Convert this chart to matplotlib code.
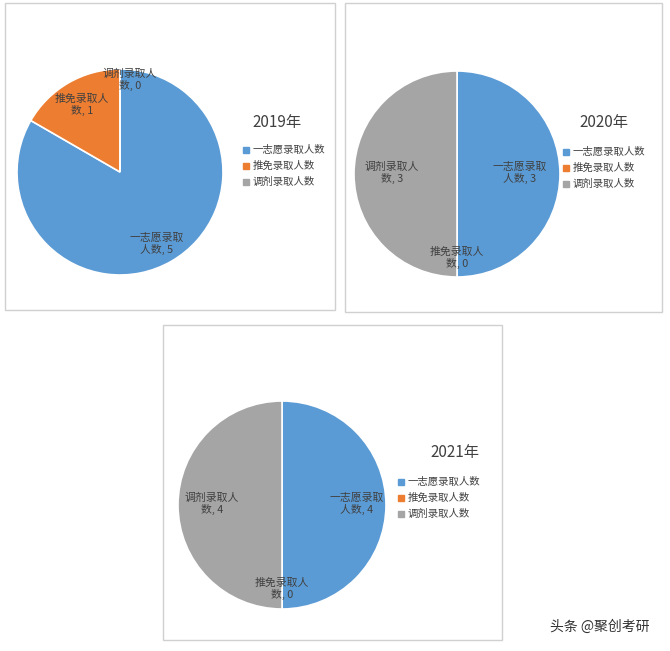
import matplotlib.pyplot as plt
from matplotlib.patches import Rectangle

plt.rcParams['font.family'] = ['Noto Sans CJK SC', 'DejaVu Sans']

categories = ['一志愿录取人数', '推免录取人数', '调剂录取人数']
years = ['2019年', '2020年', '2021年']
values_2019 = [5, 1, 0]
values_2020 = [3, 0, 3]
values_2021 = [4, 0, 4]
colors = ['#5B9BD5', '#ED7D31', '#A5A5A5']

W, H = 670, 651
fig = plt.figure(figsize=(6.7, 6.51), dpi=100)
ax = fig.add_axes([0, 0, 1, 1])

def Y(py):
    return H - py

# panel: box, pie center, radius, title pos, legend pos, label positions
panels = [
    dict(vals=values_2019, box=(5, 3, 335, 310), c=(120, 172), r=103,
         title=(277, 123), leg=(250, 150),
         labels=[(157, 244, '一志愿录取\n人数, 5'), (82, 105, '推免录取人\n数, 1'),
                 (130, 80, '调剂录取人\n数, 0')]),
    dict(vals=values_2020, box=(345, 3, 662, 312), c=(457, 174), r=103,
         title=(604, 123), leg=(570, 152),
         labels=[(520, 173, '一志愿录取\n人数, 3'), (457, 258, '推免录取人\n数, 0'),
                 (392, 173, '调剂录取人\n数, 3')]),
    dict(vals=values_2021, box=(163, 325, 502, 640), c=(282, 505), r=104,
         title=(455, 453), leg=(405, 482),
         labels=[(357, 504, '一志愿录取\n人数, 4'), (282, 589, '推免录取人\n数, 0'),
                 (212, 504, '调剂录取人\n数, 4')]),
]

for p, year in zip(panels, years):
    x0, y0, x1, y1 = p['box']
    ax.add_patch(Rectangle((x0, Y(y1)), x1 - x0, y1 - y0, fill=False,
                           edgecolor='#D0D0D0', lw=1))
    cx, cy = p['c']
    ax.pie(p['vals'], colors=colors, startangle=90, counterclock=False,
           center=(cx, Y(cy)), radius=p['r'], frame=True,
           wedgeprops=dict(edgecolor='white', linewidth=1.2))
    for lx, ly, t in p['labels']:
        ax.text(lx, Y(ly), t, ha='center', va='center', fontsize=7.8,
                color='#404040', linespacing=1.1)
    tx, ty = p['title']
    ax.text(tx, Y(ty), year, ha='center', va='center', fontsize=11, color='#404040')
    lx, ly = p['leg']
    for i, (name, col) in enumerate(zip(categories, colors)):
        yy = Y(ly + i * 16)
        ax.add_patch(Rectangle((lx - 7, yy - 3), 6, 6, color=col))
        ax.text(lx + 3, yy, name, ha='left', va='center', fontsize=7.5, color='#404040')

ax.set_xlim(0, W)
ax.set_ylim(0, H)
ax.set_aspect('equal')
ax.axis('off')

ax.text(600, Y(627), '头条 @聚创考研', ha='center', va='center', fontsize=10, color='#333333')

fig.savefig('out.png', dpi=100)
